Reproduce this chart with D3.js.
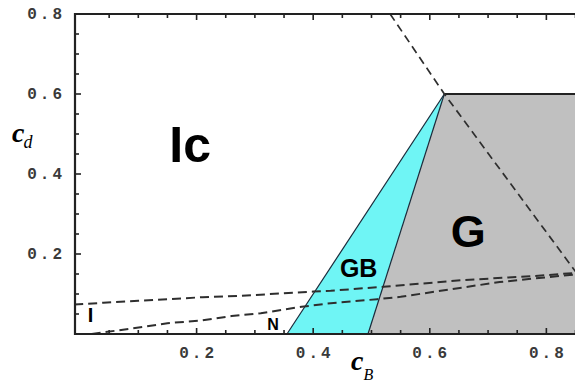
<!DOCTYPE html>
<html>
<head>
<meta charset="utf-8">
<script src="https://cdn.jsdelivr.net/npm/d3@7"></script>
<style>
  html, body { margin: 0; padding: 0; background: #fff; }
  svg { display: block; }
</style>
</head>
<body>
<svg id="chart" width="575" height="383"></svg>
<script>
// ---- data (c_B on x, c_d on y) ----
const xTickValues = [0.2, 0.4, 0.6, 0.8];
const yTickValues = [0.2, 0.4, 0.6, 0.8];
const xTickLabels = ["0.2", "0.4", "0.6", "0.8"];
const yTickLabels = ["0.2", "0.4", "0.6", "0.8"];

// region GB (cyan triangle) and region G (gray)
const regionGB = [[0.355, 0], [0.625, 0.6], [0.494, 0]];
const regionG  = [[0.494, 0], [0.625, 0.6], [0.88, 0.6], [0.88, 0]];

// dashed boundary curves
const upperDashX = [-0.01, 0.04, 0.10, 0.15, 0.21, 0.27, 0.40, 0.43, 0.52, 0.66, 0.78, 0.88];
const upperDashY = [0.074, 0.078, 0.083, 0.087, 0.092, 0.095, 0.106, 0.108, 0.118, 0.135, 0.145, 0.156];
const lowerDashX = [0.02, 0.06, 0.11, 0.15, 0.21, 0.26, 0.31, 0.38, 0.43, 0.51, 0.55, 0.66, 0.72, 0.78, 0.88];
const lowerDashY = [0.0, 0.008, 0.018, 0.027, 0.034, 0.045, 0.052, 0.068, 0.077, 0.087, 0.093, 0.117, 0.13, 0.139, 0.153];
const diagDashX = [0.532, 0.625, 0.852];
const diagDashY = [0.8, 0.6, 0.152];

// region names and where they sit
const regionNames = ["Ic", "G", "GB", "N", "I"];
const regionNameX = [0.189, 0.666, 0.478, 0.331, 0.018];
const regionNameY = [0.43, 0.2175, 0.1425, 0.01, 0.03];

// ---- layout ----
const svg = d3.select("#chart");
const x = d3.scaleLinear().domain([-0.0086, 0.88]).range([75, 593]);
const y = d3.scaleLinear().domain([0, 0.8]).range([334, 14]);
const X0 = x.domain()[0], X1 = x.domain()[1];

const poly = d3.line().x(d => x(d[0])).y(d => y(d[1]));
const zip = (xs, ys) => xs.map((v, i) => [v, ys[i]]);

const plot = svg.append("g");

// filled regions
plot.append("path").datum(regionG).attr("d", d => poly(d) + "Z")
  .attr("fill", "#c0c0c0").attr("stroke", "none");
plot.append("path").datum(regionGB).attr("d", d => poly(d) + "Z")
  .attr("fill", "#6ff5f5").attr("stroke", "none");

// solid region edges
plot.append("path").datum([regionGB[0], regionGB[1]]).attr("d", poly)
  .attr("fill", "none").attr("stroke", "#1a2a3a").attr("stroke-width", 1.2);
plot.append("path").datum([regionGB[2], regionGB[1]]).attr("d", poly)
  .attr("fill", "none").attr("stroke", "#1a2a3a").attr("stroke-width", 1.2);
plot.append("path").datum([regionG[1], regionG[2]]).attr("d", poly)
  .attr("fill", "none").attr("stroke", "#222").attr("stroke-width", 2);

// dashed curves
const dashStyle = sel => sel.attr("fill", "none").attr("stroke", "#2e2e2e")
  .attr("stroke-width", 2).attr("stroke-dasharray", "9,5");
dashStyle(plot.append("path").datum(zip(upperDashX, upperDashY)).attr("d", poly));
dashStyle(plot.append("path").datum(zip(lowerDashX, lowerDashY)).attr("d", poly));
dashStyle(plot.append("path").datum(zip(diagDashX, diagDashY)).attr("d", poly))
  .attr("stroke-width", 1.7).attr("stroke-dasharray", "8,5");

// region names
const nameSize = [50, 45, 25, 16, 20];
plot.selectAll("text.region").data(regionNames).join("text")
  .attr("class", "region")
  .attr("x", (d, i) => x(regionNameX[i]))
  .attr("y", (d, i) => y(regionNameY[i]))
  .attr("text-anchor", "middle")
  .attr("font-family", "'Liberation Sans', Arial, sans-serif")
  .attr("font-weight", "bold")
  .attr("font-size", (d, i) => nameSize[i])
  .attr("fill", "#000")
  .text(d => d);

// ---- frame with inward ticks every 0.05 ----
const tickStepsX = d3.range(1, 18);   // 0.05 .. 0.85
const tickStepsY = d3.range(1, 16);   // 0.05 .. 0.75
const tickG = svg.append("g").attr("stroke", "#222").attr("stroke-width", 1.6);
tickG.selectAll("line.bx").data(tickStepsX).join("line").attr("class", "bx")
  .attr("x1", k => x(k * 0.05)).attr("x2", k => x(k * 0.05))
  .attr("y1", y(0)).attr("y2", k => y(0) - (k % 4 === 0 ? 6 : 4));
tickG.selectAll("line.tx").data(tickStepsX).join("line").attr("class", "tx")
  .attr("x1", k => x(k * 0.05)).attr("x2", k => x(k * 0.05))
  .attr("y1", y(0.8)).attr("y2", k => y(0.8) + (k % 4 === 0 ? 6 : 4));
tickG.selectAll("line.ly").data(tickStepsY).join("line").attr("class", "ly")
  .attr("y1", k => y(k * 0.05)).attr("y2", k => y(k * 0.05))
  .attr("x1", x(X0)).attr("x2", k => x(X0) + (k % 4 === 0 ? 6 : 4));

// frame lines
svg.append("path")
  .attr("d", `M${x(X1)},${y(0.8)} H${x(X0)} V${y(0)} H${x(X1)}`)
  .attr("fill", "none").attr("stroke", "#222").attr("stroke-width", 2.2);

// tick labels
const tickFont = sel => sel.attr("font-family", "'Liberation Mono', 'DejaVu Sans Mono', monospace")
  .attr("font-weight", "bold").attr("font-size", 16).attr("fill", "#3a3a3a")
  .attr("letter-spacing", "3px");

svg.append("g").selectAll("text").data(xTickValues).join("text")
  .attr("x", d => x(d) + 1.5)
  .attr("y", 358)
  .attr("text-anchor", "middle")
  .call(tickFont)
  .text((d, i) => xTickLabels[i]);

svg.append("g").selectAll("text").data(yTickValues).join("text")
  .attr("x", 65)
  .attr("y", d => y(d) + 5)
  .attr("text-anchor", "end")
  .call(tickFont)
  .text((d, i) => yTickLabels[i]);

// axis titles
const serif = "'Liberation Serif', 'Times New Roman', serif";
const yt = svg.append("text").attr("x", 12).attr("y", 142)
  .attr("font-family", serif).attr("fill", "#000");
yt.append("tspan").attr("font-size", 28).attr("font-style", "italic").attr("font-weight", "bold").text("c");
yt.append("tspan").attr("font-size", 18).attr("font-style", "italic").attr("dy", 6).attr("dx", -1).text("d");

const xt = svg.append("text").attr("x", 351).attr("y", 370)
  .attr("font-family", serif).attr("fill", "#000");
xt.append("tspan").attr("font-size", 28).attr("font-style", "italic").attr("font-weight", "bold").text("c");
xt.append("tspan").attr("font-size", 16).attr("font-style", "italic").attr("dy", 10).attr("dx", 0).text("B");
</script>
</body>
</html>
